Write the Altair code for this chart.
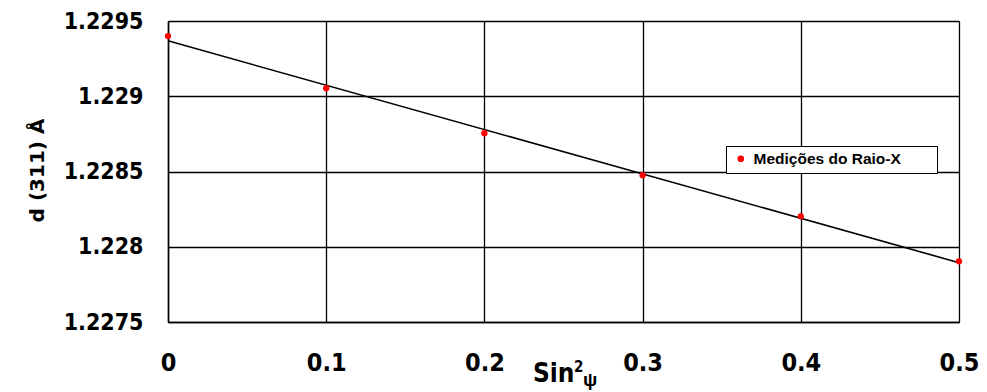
import altair as alt
import numpy as np
import pandas as pd

sin2psi = [0.0, 0.1, 0.2, 0.3, 0.4, 0.5]
d311 = [1.22940, 1.229053, 1.228754, 1.228475, 1.228202, 1.227903]
series_name = "Medições do Raio-X"
x_ticks = [0, 0.1, 0.2, 0.3, 0.4, 0.5]
y_ticks = [1.2275, 1.228, 1.2285, 1.229, 1.2295]

pts = pd.DataFrame({"x": sin2psi, "y": d311, "s": [series_name] * len(sin2psi)})
slope, intercept = np.polyfit(sin2psi, d311, 1)
fit = pd.DataFrame({"x": [0.0, 0.5], "y": [intercept, intercept + slope * 0.5]})

NARROW = "DejaVu Sans Condensed, Liberation Sans"
FONT = "Liberation Sans"

xscale = alt.Scale(domain=[0, 0.5], nice=False, zero=False)
yscale = alt.Scale(domain=[1.2275, 1.2295], nice=False, zero=False)

xaxis = alt.Axis(values=x_ticks, format="~g", title="",
                 labelFontSize=25, labelFont=NARROW, labelFontWeight="bold", labelColor="black",
                 labelPadding=28, labelFlush=False, labelOverlap=False,
                 ticks=False, domainColor="black", domainWidth=1.5,
                 gridColor="black", gridWidth=1.3, gridOpacity=1)
yaxis = alt.Axis(values=y_ticks, format="~g", title="d (311) Å", titleFontSize=20, titleFontWeight="bold",
                 titleFont="DejaVu Sans", titleColor="black", titleX=-121, titleY=149,
                 labelFontSize=23, labelFont=NARROW, labelFontWeight="bold", labelColor="black",
                 labelPadding=25, labelFlush=False, ticks=False, domainColor="black", domainWidth=1.5,
                 gridColor="black", gridWidth=1.3, gridOpacity=1)

line = alt.Chart(fit).mark_line(color="black", strokeWidth=1.6).encode(
    x=alt.X("x:Q", scale=xscale, axis=xaxis),
    y=alt.Y("y:Q", scale=yscale, axis=yaxis),
)

points = alt.Chart(pts).mark_point(filled=True, shape="circle", size=40, opacity=1).encode(
    x=alt.X("x:Q", scale=xscale),
    y=alt.Y("y:Q", scale=yscale),
    color=alt.Color("s:N", scale=alt.Scale(range=["#ff0000"]),
                    legend=alt.Legend(title="  ", titleOrient="right", titlePadding=31,
                                      orient="none", legendX=558, legendY=125,
                                      labelFont=FONT, labelFontSize=15.5, labelFontWeight="bold",
                                      labelColor="black", symbolSize=45, symbolType="circle",
                                      symbolStrokeWidth=0,
                                      padding=5, strokeColor="black", fillColor="white",
                                      cornerRadius=0, labelLimit=300, labelOffset=5,
                                      symbolOffset=2)),
)

title_df = pd.DataFrame({"t": ["Sin"], "sup": ["2"], "sub": ["ψ"]})
sin_txt = alt.Chart(title_df).mark_text(
    font=NARROW, fontSize=26, fontWeight="bold", color="black", align="left", baseline="alphabetic"
).encode(text="t:N", x=alt.value(365), y=alt.value(361))
sup_txt = alt.Chart(title_df).mark_text(
    font=NARROW, fontSize=15, fontWeight="bold", color="black", align="left", baseline="alphabetic"
).encode(text="sup:N", x=alt.value(406), y=alt.value(351))
sub_txt = alt.Chart(title_df).mark_text(
    font=FONT, fontSize=19, fontWeight="bold", color="black", align="left", baseline="alphabetic"
).encode(text="sub:N", x=alt.value(415), y=alt.value(365))

chart = alt.layer(line, points, sin_txt, sup_txt, sub_txt).properties(
    width=791, height=301,
    autosize=alt.AutoSizeParams(type="none"),
    padding={"left": 160, "top": 13, "right": 20, "bottom": 68},
).configure_view(stroke="black", strokeWidth=1.5).configure(background="white")

chart.save("out.html", embed_options={"renderer": "svg", "actions": False})
